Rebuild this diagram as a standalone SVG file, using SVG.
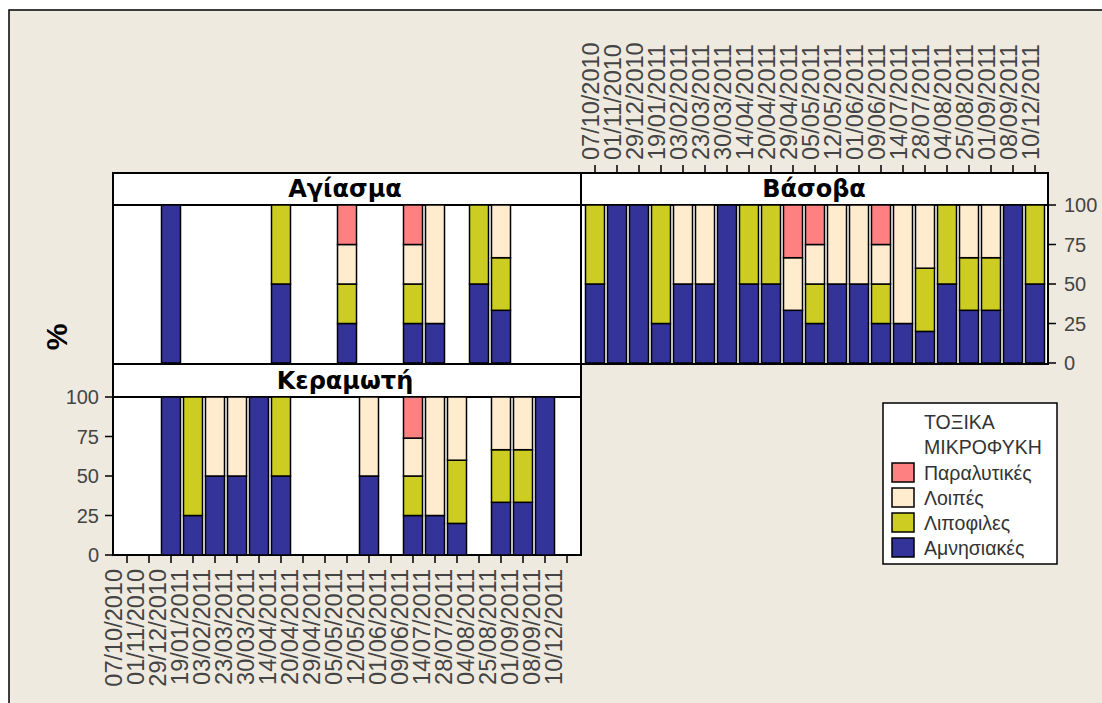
<svg xmlns="http://www.w3.org/2000/svg" width="1102" height="703" viewBox="0 0 1102 703">
<style>
.bg{fill:#EEEAE0;stroke:#000;stroke-width:1.5}
.pn{fill:#fff;stroke:#000;stroke-width:2}
.b{fill:#333399;stroke:#000;stroke-width:1.5}
.o{fill:#CCCC22;stroke:#000;stroke-width:1.5}
.c{fill:#FFEBCD;stroke:#000;stroke-width:1.5}
.r{fill:#FF8080;stroke:#000;stroke-width:1.5}
.tk{stroke:#000;stroke-width:1.5}
.ttl{font-family:"DejaVu Sans",sans-serif;font-weight:bold;font-size:24px;fill:#000;text-anchor:middle}
.num{font-family:"Liberation Sans",Arial,sans-serif;font-size:20px;fill:#444}
.dt{font-family:"Liberation Sans",Arial,sans-serif;font-size:23.5px;fill:#444}
.lg{font-family:"Liberation Sans",Arial,sans-serif;font-size:19.5px;fill:#333}
</style>
<rect x="0" y="0" width="1102" height="703" fill="#fff"/>
<rect class="bg" x="9" y="10" width="1110" height="710"/>

<text x="67" y="337" transform="rotate(-90 67 337)" font-family="Liberation Sans,Arial,sans-serif" font-weight="bold" font-size="30" text-anchor="middle" fill="#000">%</text>

<g id="panel-agiasma">
<rect class="pn" x="113" y="173" width="468" height="32"/>
<rect class="pn" x="113" y="205" width="468" height="159"/>
<text class="ttl" x="345" y="197">Αγίασμα</text>
<rect class="b" x="161.5" y="205" width="19" height="158"/>
<rect class="b" x="271.5" y="284" width="19" height="79"/>
<rect class="o" x="271.5" y="205" width="19" height="79"/>
<rect class="b" x="337.5" y="323.5" width="19" height="39.5"/>
<rect class="o" x="337.5" y="284" width="19" height="39.5"/>
<rect class="c" x="337.5" y="244.5" width="19" height="39.5"/>
<rect class="r" x="337.5" y="205" width="19" height="39.5"/>
<rect class="b" x="403.5" y="323.5" width="19" height="39.5"/>
<rect class="o" x="403.5" y="284" width="19" height="39.5"/>
<rect class="c" x="403.5" y="244.5" width="19" height="39.5"/>
<rect class="r" x="403.5" y="205" width="19" height="39.5"/>
<rect class="b" x="425.5" y="323.5" width="19" height="39.5"/>
<rect class="c" x="425.5" y="205" width="19" height="118.5"/>
<rect class="b" x="469.5" y="284" width="19" height="79"/>
<rect class="o" x="469.5" y="205" width="19" height="79"/>
<rect class="b" x="491.5" y="310.3" width="19" height="52.7"/>
<rect class="o" x="491.5" y="257.7" width="19" height="52.6"/>
<rect class="c" x="491.5" y="205" width="19" height="52.7"/>
</g>

<g id="panel-vasoba">
<rect class="pn" x="581" y="173" width="467" height="32"/>
<rect class="pn" x="581" y="205" width="467" height="159"/>
<text class="ttl" x="814" y="197">Βάσοβα</text>
<rect class="b" x="585.5" y="284" width="19" height="79"/><rect class="o" x="585.5" y="205" width="19" height="79"/>
<rect class="b" x="607.5" y="205" width="19" height="158"/>
<rect class="b" x="629.5" y="205" width="19" height="158"/>
<rect class="b" x="651.5" y="323.5" width="19" height="39.5"/><rect class="o" x="651.5" y="205" width="19" height="118.5"/>
<rect class="b" x="673.5" y="284" width="19" height="79"/><rect class="c" x="673.5" y="205" width="19" height="79"/>
<rect class="b" x="695.5" y="284" width="19" height="79"/><rect class="c" x="695.5" y="205" width="19" height="79"/>
<rect class="b" x="717.5" y="205" width="19" height="158"/>
<rect class="b" x="739.5" y="284" width="19" height="79"/><rect class="o" x="739.5" y="205" width="19" height="79"/>
<rect class="b" x="761.5" y="284" width="19" height="79"/><rect class="o" x="761.5" y="205" width="19" height="79"/>
<rect class="b" x="783.5" y="310.3" width="19" height="52.7"/><rect class="c" x="783.5" y="257.7" width="19" height="52.6"/><rect class="r" x="783.5" y="205" width="19" height="52.7"/>
<rect class="b" x="805.5" y="323.5" width="19" height="39.5"/><rect class="o" x="805.5" y="284" width="19" height="39.5"/><rect class="c" x="805.5" y="244.5" width="19" height="39.5"/><rect class="r" x="805.5" y="205" width="19" height="39.5"/>
<rect class="b" x="827.5" y="284" width="19" height="79"/><rect class="c" x="827.5" y="205" width="19" height="79"/>
<rect class="b" x="849.5" y="284" width="19" height="79"/><rect class="c" x="849.5" y="205" width="19" height="79"/>
<rect class="b" x="871.5" y="323.5" width="19" height="39.5"/><rect class="o" x="871.5" y="284" width="19" height="39.5"/><rect class="c" x="871.5" y="244.5" width="19" height="39.5"/><rect class="r" x="871.5" y="205" width="19" height="39.5"/>
<rect class="b" x="893.5" y="323.5" width="19" height="39.5"/><rect class="c" x="893.5" y="205" width="19" height="118.5"/>
<rect class="b" x="915.5" y="331.4" width="19" height="31.6"/><rect class="o" x="915.5" y="268.2" width="19" height="63.2"/><rect class="c" x="915.5" y="205" width="19" height="63.2"/>
<rect class="b" x="937.5" y="284" width="19" height="79"/><rect class="o" x="937.5" y="205" width="19" height="79"/>
<rect class="b" x="959.5" y="310.3" width="19" height="52.7"/><rect class="o" x="959.5" y="257.7" width="19" height="52.6"/><rect class="c" x="959.5" y="205" width="19" height="52.7"/>
<rect class="b" x="981.5" y="310.3" width="19" height="52.7"/><rect class="o" x="981.5" y="257.7" width="19" height="52.6"/><rect class="c" x="981.5" y="205" width="19" height="52.7"/>
<rect class="b" x="1003.5" y="205" width="19" height="158"/>
<rect class="b" x="1025.5" y="284" width="19" height="79"/><rect class="o" x="1025.5" y="205" width="19" height="79"/>
</g>

<g id="panel-kerameti">
<rect class="pn" x="113" y="364" width="468" height="33"/>
<rect class="pn" x="113" y="397" width="468" height="158"/>
<text class="ttl" x="345" y="389">Κεραμωτή</text>
<rect class="b" x="161.5" y="397" width="19" height="158"/>
<rect class="b" x="183.5" y="515.5" width="19" height="39.5"/><rect class="o" x="183.5" y="397" width="19" height="118.5"/>
<rect class="b" x="205.5" y="476" width="19" height="79"/><rect class="c" x="205.5" y="397" width="19" height="79"/>
<rect class="b" x="227.5" y="476" width="19" height="79"/><rect class="c" x="227.5" y="397" width="19" height="79"/>
<rect class="b" x="249.5" y="397" width="19" height="158"/>
<rect class="b" x="271.5" y="476" width="19" height="79"/><rect class="o" x="271.5" y="397" width="19" height="79"/>
<rect class="b" x="359.5" y="476" width="19" height="79"/><rect class="c" x="359.5" y="397" width="19" height="79"/>
<rect class="b" x="403.5" y="515.5" width="19" height="39.5"/><rect class="o" x="403.5" y="476" width="19" height="39.5"/><rect class="c" x="403.5" y="438.1" width="19" height="37.9"/><rect class="r" x="403.5" y="397" width="19" height="41.1"/>
<rect class="b" x="425.5" y="515.5" width="19" height="39.5"/><rect class="c" x="425.5" y="397" width="19" height="118.5"/>
<rect class="b" x="447.5" y="523.4" width="19" height="31.6"/><rect class="o" x="447.5" y="460.2" width="19" height="63.2"/><rect class="c" x="447.5" y="397" width="19" height="63.2"/>
<rect class="b" x="491.5" y="502.3" width="19" height="52.7"/><rect class="o" x="491.5" y="449.7" width="19" height="52.6"/><rect class="c" x="491.5" y="397" width="19" height="52.7"/>
<rect class="b" x="513.5" y="502.3" width="19" height="52.7"/><rect class="o" x="513.5" y="449.7" width="19" height="52.6"/><rect class="c" x="513.5" y="397" width="19" height="52.7"/>
<rect class="b" x="535.5" y="397" width="19" height="158"/>
</g>

<g id="axes">
<g class="tk">
<path d="M105 397H113M105 436.5H113M105 476H113M105 515.5H113M105 555H113"/>
<path d="M1048 205H1056M1048 244.5H1056M1048 284H1056M1048 323.5H1056M1048 363H1056"/>
<path d="M127 555V563M149 555V563M171 555V563M193 555V563M215 555V563M237 555V563M259 555V563M281 555V563M303 555V563M325 555V563M347 555V563M369 555V563M391 555V563M413 555V563M435 555V563M457 555V563M479 555V563M501 555V563M523 555V563M545 555V563M567 555V563"/>
<path d="M595 165V173M617 165V173M639 165V173M661 165V173M683 165V173M705 165V173M727 165V173M749 165V173M771 165V173M793 165V173M815 165V173M837 165V173M859 165V173M881 165V173M903 165V173M925 165V173M947 165V173M969 165V173M991 165V173M1013 165V173M1035 165V173"/>
</g>
<g class="num" text-anchor="end">
<text x="99" y="404">100</text><text x="99" y="443.5">75</text><text x="99" y="483">50</text><text x="99" y="522.5">25</text><text x="99" y="562">0</text>
</g>
<g class="num">
<text x="1064" y="212">100</text><text x="1064" y="251.5">75</text><text x="1064" y="291">50</text><text x="1064" y="330.5">25</text><text x="1064" y="370">0</text>
</g>
<g class="dt">
<text transform="translate(599,160) rotate(-90)">07/10/2010</text>
<text transform="translate(621,160) rotate(-90)">01/11/2010</text>
<text transform="translate(643,160) rotate(-90)">29/12/2010</text>
<text transform="translate(665,160) rotate(-90)">19/01/2011</text>
<text transform="translate(687,160) rotate(-90)">03/02/2011</text>
<text transform="translate(709,160) rotate(-90)">23/03/2011</text>
<text transform="translate(731,160) rotate(-90)">30/03/2011</text>
<text transform="translate(753,160) rotate(-90)">14/04/2011</text>
<text transform="translate(775,160) rotate(-90)">20/04/2011</text>
<text transform="translate(797,160) rotate(-90)">29/04/2011</text>
<text transform="translate(819,160) rotate(-90)">05/05/2011</text>
<text transform="translate(841,160) rotate(-90)">12/05/2011</text>
<text transform="translate(863,160) rotate(-90)">01/06/2011</text>
<text transform="translate(885,160) rotate(-90)">09/06/2011</text>
<text transform="translate(907,160) rotate(-90)">14/07/2011</text>
<text transform="translate(929,160) rotate(-90)">28/07/2011</text>
<text transform="translate(951,160) rotate(-90)">04/08/2011</text>
<text transform="translate(973,160) rotate(-90)">25/08/2011</text>
<text transform="translate(995,160) rotate(-90)">01/09/2011</text>
<text transform="translate(1017,160) rotate(-90)">08/09/2011</text>
<text transform="translate(1039,160) rotate(-90)">10/12/2011</text>
</g>
<g class="dt" text-anchor="end">
<text transform="translate(122,569) rotate(-90)">07/10/2010</text>
<text transform="translate(144,569) rotate(-90)">01/11/2010</text>
<text transform="translate(166,569) rotate(-90)">29/12/2010</text>
<text transform="translate(188,569) rotate(-90)">19/01/2011</text>
<text transform="translate(210,569) rotate(-90)">03/02/2011</text>
<text transform="translate(232,569) rotate(-90)">23/03/2011</text>
<text transform="translate(254,569) rotate(-90)">30/03/2011</text>
<text transform="translate(276,569) rotate(-90)">14/04/2011</text>
<text transform="translate(298,569) rotate(-90)">20/04/2011</text>
<text transform="translate(320,569) rotate(-90)">29/04/2011</text>
<text transform="translate(342,569) rotate(-90)">05/05/2011</text>
<text transform="translate(364,569) rotate(-90)">12/05/2011</text>
<text transform="translate(386,569) rotate(-90)">01/06/2011</text>
<text transform="translate(408,569) rotate(-90)">09/06/2011</text>
<text transform="translate(430,569) rotate(-90)">14/07/2011</text>
<text transform="translate(452,569) rotate(-90)">28/07/2011</text>
<text transform="translate(474,569) rotate(-90)">04/08/2011</text>
<text transform="translate(496,569) rotate(-90)">25/08/2011</text>
<text transform="translate(518,569) rotate(-90)">01/09/2011</text>
<text transform="translate(540,569) rotate(-90)">08/09/2011</text>
<text transform="translate(562,569) rotate(-90)">10/12/2011</text>
</g>
</g>

<g id="connectors"></g>

<g id="legend">
<rect x="883" y="403" width="174" height="161" fill="#fff" stroke="#000" stroke-width="1.5"/>
<text class="lg" x="924" y="429">ΤΟΞΙΚΑ</text>
<text class="lg" x="924" y="454">ΜΙΚΡΟΦΥΚΗ</text>
<rect class="r" x="892" y="463" width="22" height="19"/>
<text class="lg" x="924" y="480">Παραλυτικές</text>
<rect class="c" x="892" y="488" width="22" height="19"/>
<text class="lg" x="924" y="505">Λοιπές</text>
<rect class="o" x="892" y="513" width="22" height="19"/>
<text class="lg" x="924" y="530">Λιποφιλες</text>
<rect class="b" x="892" y="538" width="22" height="19"/>
<text class="lg" x="924" y="555">Αμνησιακές</text>
</g>
</svg>
